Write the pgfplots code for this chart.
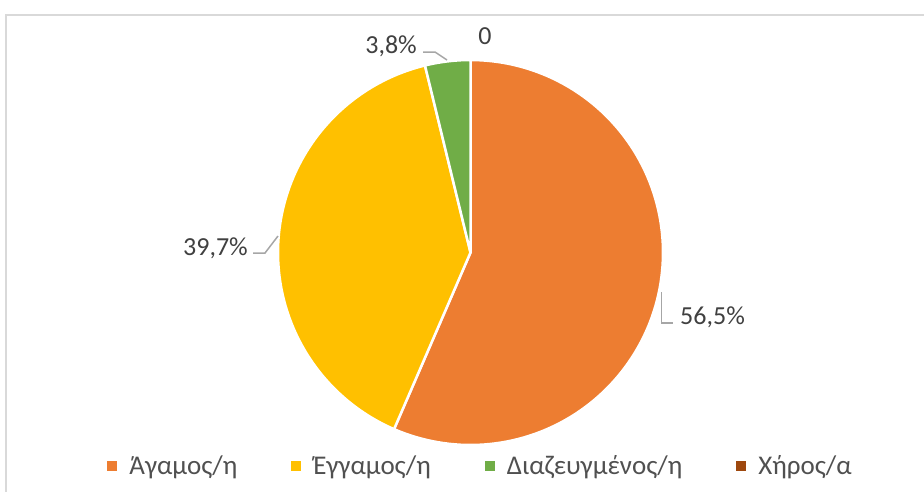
\documentclass[border=0pt]{standalone}
\usepackage{fontspec}
\setmainfont{Carlito}
\usepackage{pgfplots}
\usepackage{pgfplotstable}
\pgfplotsset{compat=1.18}
\definecolor{cA}{HTML}{ED7D31}
\definecolor{cB}{HTML}{FFC000}
\definecolor{cC}{HTML}{70AD47}
\definecolor{cD}{HTML}{9E480E}
\definecolor{lbl}{HTML}{404040}
\definecolor{leg}{HTML}{505050}
\definecolor{lead}{HTML}{A6A6A6}
\definecolor{framec}{HTML}{D9D9D9}

\pgfplotstableread{
idx value
0 56.5
1 39.7
2 3.8
3 0
}\piedata
\pgfplotstablegetelem{0}{value}\of\piedata \let\vA\pgfplotsretval
\pgfplotstablegetelem{1}{value}\of\piedata \let\vB\pgfplotsretval
\pgfplotstablegetelem{2}{value}\of\piedata \let\vC\pgfplotsretval
\pgfmathsetmacro\aA{3.6*\vA}
\pgfmathsetmacro\aB{\aA+3.6*\vB}
\pgfmathsetmacro\aC{\aB+3.6*\vC}
\newcommand\cx{470.5}
\newcommand\cy{252.5}
\newcommand\rr{192.5}
\newcommand\lblf{\fontsize{26}{31}\selectfont}
\newcommand\legf{\fontsize{27}{32}\selectfont}

\begin{document}
\begin{tikzpicture}[x=1pt,y=1pt]
\path[use as bounding box] (0,0) rectangle (924,491);
\begin{axis}[
  at={(0,0)}, anchor=south west,
  width=924pt, height=491pt, scale only axis,
  xmin=0, xmax=924, ymin=0, ymax=491, y dir=reverse,
  hide axis, clip=false,
  legend image code/.code={\fill[#1,draw=none] (0pt,-5pt) rectangle (10pt,5pt);},
  legend style={at={(axis cs:479.5,466)}, anchor=center, draw=none, fill=none,
    font=\legf, text=leg, legend columns=4, legend cell align=left,
    nodes={inner sep=0pt},
    /tikz/every odd column/.append style={column sep=12pt},
    /tikz/every even column/.append style={column sep=54pt}},
]
% frame
\addplot[framec, line width=2pt, forget plot] coordinates {(6,495) (6,15) (930,15)};
% slices
\addplot[fill=cA, draw=white, line width=2.5pt, line join=round, domain=0:\aA, samples=120, variable=\t]
  ({\cx+\rr*sin(\t)},{\cy-\rr*cos(\t)}) -- (axis cs:\cx,\cy) -- cycle;
\addlegendentry{Άγαμος/η}
\addplot[fill=cB, draw=white, line width=2.5pt, line join=round, domain=\aA:\aB, samples=100, variable=\t]
  ({\cx+\rr*sin(\t)},{\cy-\rr*cos(\t)}) -- (axis cs:\cx,\cy) -- cycle;
\addlegendentry{Έγγαμος/η}
\addplot[fill=cC, draw=white, line width=2.5pt, line join=round, domain=\aB:\aC, samples=20, variable=\t]
  ({\cx+\rr*sin(\t)},{\cy-\rr*cos(\t)}) -- (axis cs:\cx,\cy) -- cycle;
\addlegendentry{Διαζευγμένος/η}
\addlegendimage{fill=cD}
\addlegendentry{Χήρος/α}
% leader lines
\addplot[lead, line width=1.5pt, forget plot] coordinates {(661.7,292) (661.7,323) (673,323)};
\addplot[lead, line width=1.5pt, forget plot] coordinates {(278,236) (265,253) (253,253)};
\addplot[lead, line width=1.5pt, forget plot] coordinates {(423,52) (435,52) (447,60)};
% labels
\node[anchor=base west, inner sep=0pt, text=lbl, font=\lblf] at (axis cs:680,324) {56,5\%};
\node[anchor=base east, inner sep=0pt, text=lbl, font=\lblf] at (axis cs:248,255) {39,7\%};
\node[anchor=base east, inner sep=0pt, text=lbl, font=\lblf] at (axis cs:417,53) {3,8\%};
\node[anchor=base, inner sep=0pt, text=lbl, font=\lblf] at (axis cs:485,44) {0};
\end{axis}
\end{tikzpicture}
\end{document}
